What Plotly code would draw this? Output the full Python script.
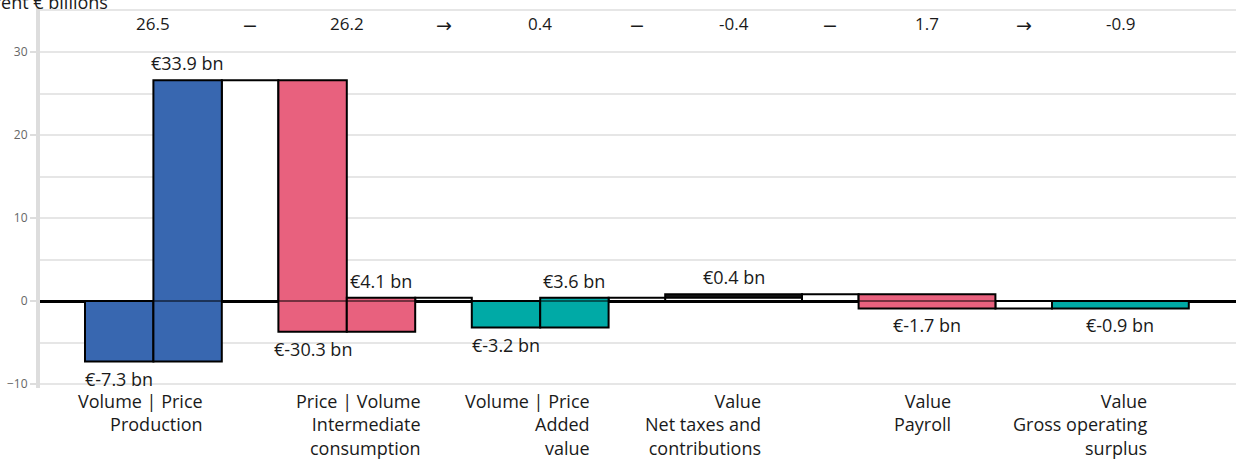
import plotly.graph_objects as go

# ---- data -------------------------------------------------------------
groups = ["Production", "Intermediate<br>consumption", "Added<br>value",
          "Net taxes and<br>contributions", "Payroll", "Gross operating<br>surplus"]
effect_names = [["Volume", "Price"], ["Price", "Volume"], ["Volume", "Price"],
                ["Value"], ["Value"], ["Value"]]
effect_values = [[-7.3, 33.9], [-30.3, 4.1], [-3.2, 3.6], [0.4], [-1.7], [-0.9]]
group_totals = [26.5, 26.2, 0.4, -0.4, 1.7, -0.9]
operators = ["−", "→", "−", "−", "→"]
y_ticks = [-10, 0, 10, 20, 30]

# ---- style / layout constants -----------------------------------------
group_colors = ["#3867b0", "#e8617e", "#00aaa6", "#151515", "#e8617e", "#00aaa6"]
label_shift = [51.6, 76, 52, 29, 26, 28.6]   # right edge of each label block, from group centre
BAR_W = 68.4
GAP_W = 56.6
LEAD = 45
FONT = "Open Sans"
TXT = "#1a1a1a"
GRID = "#e6e6e6"

# ---- geometry of the cascade -----------------------------------------
bar_x, bar_w, bar_base, bar_val, bar_col = [], [], [], [], []
conn_x, conn_w, conn_val = [], [], []
centres = []
x = LEAD
level = 0.0
for gi, vals in enumerate(effect_values):
    if gi > 0:
        conn_x.append(x + GAP_W / 2)
        conn_w.append(GAP_W)
        conn_val.append(level)
        x += GAP_W
        if operators[gi - 1] == "→":
            level = 0.0
    centres.append(x + BAR_W)
    w = 2 * BAR_W / len(vals)
    for v in vals:
        bar_x.append(x + w / 2)
        bar_w.append(w)
        bar_base.append(level)
        bar_val.append(v)
        bar_col.append(group_colors[gi])
        level += v
        x += w

fig = go.Figure()
fig.add_trace(go.Bar(
    x=conn_x, y=conn_val, base=[0] * len(conn_val), width=conn_w,
    marker=dict(color="white", line=dict(color="black", width=2)),
    hoverinfo="skip", showlegend=False))
fig.add_trace(go.Bar(
    x=bar_x, y=bar_val, base=bar_base, width=bar_w,
    marker=dict(color=bar_col, line=dict(color="black", width=2)),
    showlegend=False))

ann = []
# value labels at the end of each bar
for bx, b, v in zip(bar_x, bar_base, bar_val):
    ann.append(dict(x=bx, y=b + v, text=f"€{v:.1f} bn", showarrow=False,
                    yanchor="middle", yshift=17 if v > 0 else -17,
                    font=dict(family=FONT, size=18, color=TXT)))
# header equation
for c, t in zip(centres, group_totals):
    ann.append(dict(x=c, y=33.4, text=f"{t:.1f}", showarrow=False, yanchor="middle",
                    font=dict(family=FONT, size=17, color=TXT)))
for cx, op in zip(conn_x, operators):
    ann.append(dict(x=cx, y=33.2, text=op, showarrow=False, yanchor="middle",
                    font=dict(family="DejaVu Sans", size=19, color=TXT)))
# category labels
for c, s, names, g in zip(centres, label_shift, effect_names, groups):
    first = "\u00a0| ".join(names)
    ann.append(dict(x=c + s, y=0, yref="paper", xanchor="right", yanchor="top",
                    align="right", yshift=1, text=f"{first}<br>{g}", showarrow=False,
                    font=dict(family=FONT, size=18, color=TXT)))
# unit title
ann.append(dict(x=70, y=1, yref="paper", xanchor="right", yanchor="bottom",
                yshift=-8, text="Current € billions", showarrow=False,
                font=dict(family=FONT, size=18, color=TXT)))

fig.update_layout(
    width=1236, height=460,
    margin=dict(l=40, r=0, t=8, b=72),
    paper_bgcolor="white", plot_bgcolor="white",
    barmode="overlay",
    annotations=ann,
    shapes=[dict(type="line", xref="paper", x0=0, x1=1, yref="y", y0=0, y1=0,
                 line=dict(color="black", width=1), layer="above")],
    xaxis=dict(range=[0, 1196], showticklabels=False, showgrid=False,
               zeroline=False, ticks=""),
    yaxis=dict(range=[-10.48, 35.3], tickvals=y_ticks, showgrid=True,
               gridcolor=GRID, gridwidth=1.5,
               minor=dict(dtick=5, tick0=0, showgrid=True, gridcolor=GRID,
                          gridwidth=1.5, ticks=""),
               zeroline=True, zerolinecolor="black", zerolinewidth=3,
               showline=True, linecolor="#dddddd", linewidth=4,
               ticks="outside", ticklen=6, tickcolor="#dddddd", tickwidth=1.5,
               tickfont=dict(family=FONT, size=12, color="#666666")),
    font=dict(family=FONT, color=TXT),
)

fig.write_html("out.html")
